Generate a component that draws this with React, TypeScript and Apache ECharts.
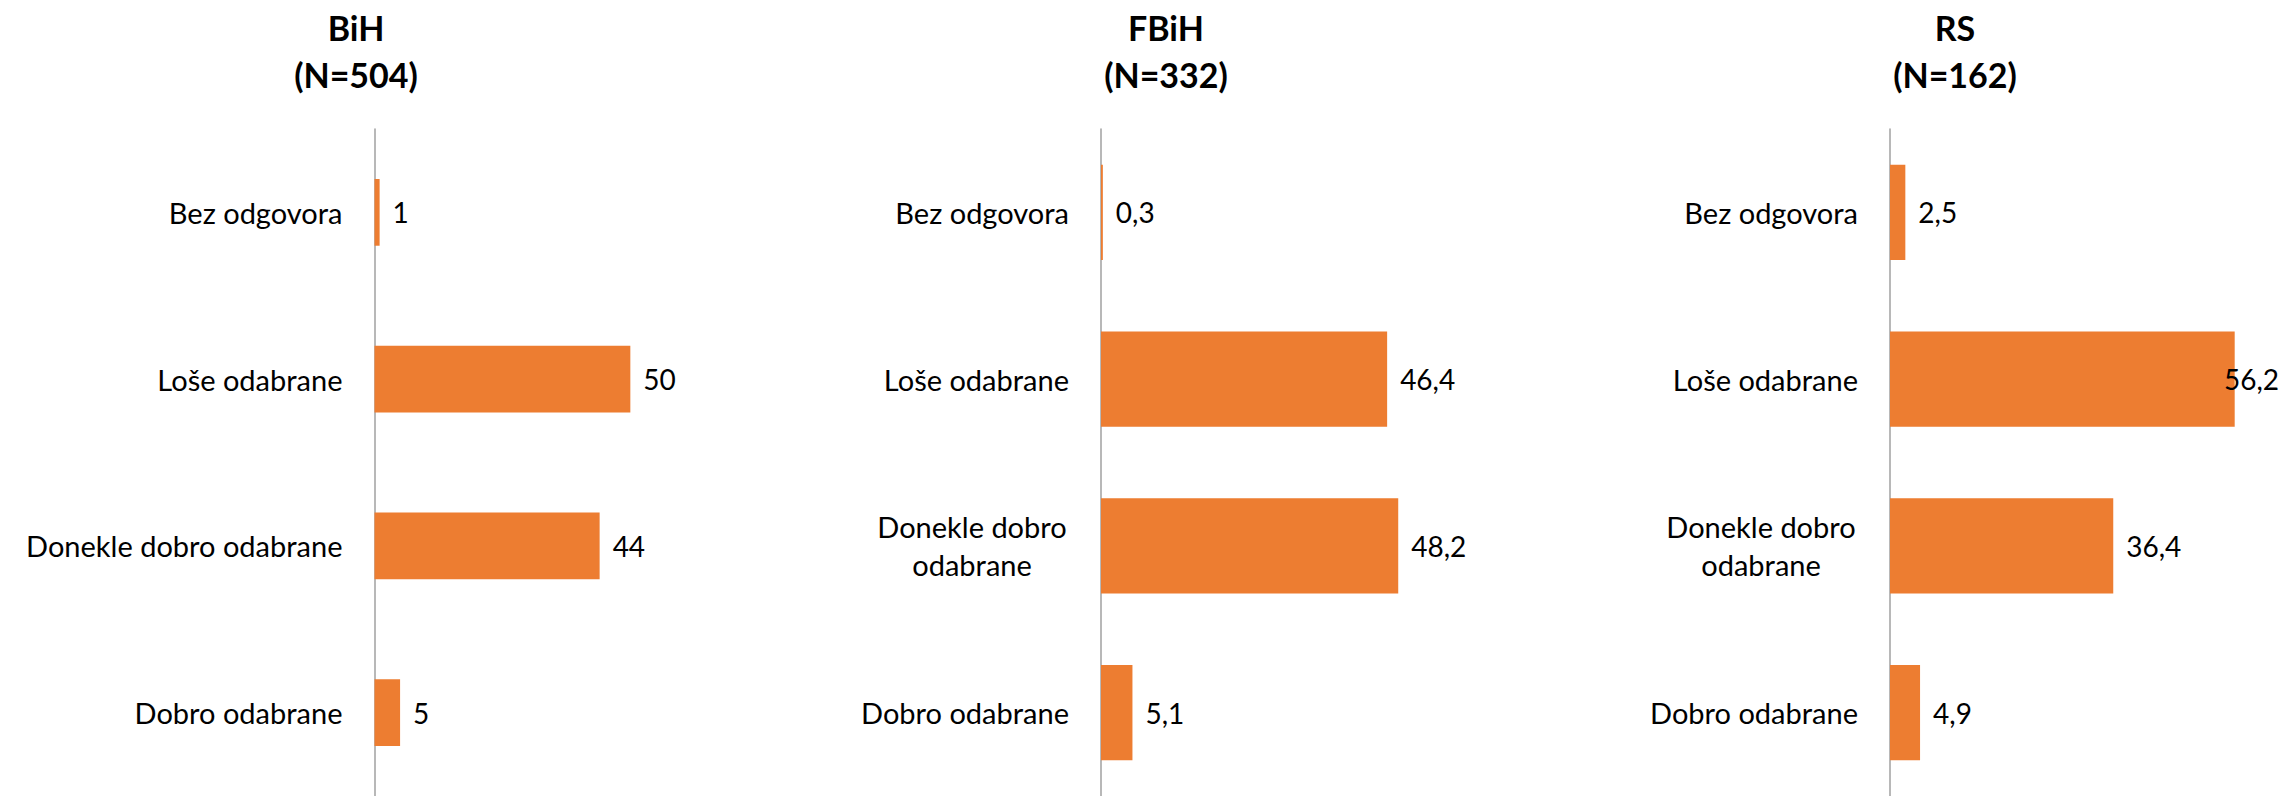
import React, { useEffect, useRef } from "react";
import * as echarts from "echarts";

// ---- data ----
const categories = ["Bez odgovora", "Loše odabrane", "Donekle dobro odabrane", "Dobro odabrane"];
const panelTitles = ["BiH", "FBiH", "RS"];
const panelN = [504, 332, 162];
const bihValues = [1, 50, 44, 5];
const fbihValues = [0.3, 46.4, 48.2, 5.1];
const rsValues = [2.5, 56.2, 36.4, 4.9];
const axisMax = 60;

const panelValues = [bihValues, fbihValues, rsValues];

// ---- layout / style ----
const W = 2285;
const H = 796;
const FONT = "Lato, 'Noto Sans', sans-serif";
const BAR_COLOR = "#ED7D31";
const panelLayout = [
  { left: 374.5, width: 307, gap: "60%", wrap: false, titleX: 356 },
  { left: 1101, width: 370, gap: "43%", wrap: true, titleX: 1166 },
  { left: 1890, width: 368, gap: "43%", wrap: true, titleX: 1955 },
];

const fmt = (v: number) => String(v).replace(".", ",");

export default function App() {
  const ref = useRef<HTMLDivElement>(null);
  useEffect(() => {
    if (!ref.current) return;
    const chart = echarts.init(ref.current, null, { renderer: "svg" });
    const option: any = {
      animation: false,
      backgroundColor: "#ffffff",
      title: panelLayout.map((p, i) => ({
        text: `${panelTitles[i]}\n(N=${panelN[i]})`,
        left: p.titleX,
        top: 4,
        padding: 0,
        textAlign: "center",
        textStyle: {
          fontFamily: FONT,
          fontWeight: "bold",
          fontSize: 34,
          lineHeight: 47,
          color: "#000",
        },
      })),
      grid: panelLayout.map((p) => ({
        left: p.left,
        width: p.width,
        top: 129,
        height: 671,
        containLabel: false,
      })),
      xAxis: panelLayout.map((_, i) => ({
        type: "value",
        gridIndex: i,
        min: 0,
        max: axisMax,
        show: false,
        splitLine: { show: false },
      })),
      yAxis: panelLayout.map((p, i) => ({
        type: "category",
        gridIndex: i,
        data: categories,
        inverse: true,
        axisLine: { show: true, lineStyle: { color: "#a0a0a0", width: 1.5 } },
        axisTick: { show: false },
        splitLine: { show: false },
        axisLabel: {
          margin: 32,
          color: "#000",
          fontFamily: FONT,
          fontSize: 29,
          lineHeight: 38,
          formatter: (v: string) => {
            if (p.wrap && v.indexOf("Donekle dobro ") === 0) {
              const parts = ["Donekle dobro", v.slice("Donekle dobro ".length)];
              return parts.map((s) => `{c|${s}}`).join("\n");
            }
            return v;
          },
          rich: {
            c: {
              width: 194,
              align: "center",
              fontFamily: FONT,
              fontSize: 29,
              lineHeight: 38,
              color: "#000",
            },
          },
        },
      })),
      series: panelValues.map((vals, i) => ({
        type: "bar",
        xAxisIndex: i,
        yAxisIndex: i,
        data: vals,
        barCategoryGap: panelLayout[i].gap,
        itemStyle: { color: BAR_COLOR },
        label: {
          show: true,
          position: "right",
          distance: 13,
          color: "#000",
          fontFamily: FONT,
          fontSize: 28,
          formatter: (pr: any) => fmt(pr.value),
        },
        labelLayout: (params: any) => {
          const r = params.labelRect;
          const limit = W - 6;
          if (r && r.x + r.width > limit) {
            return { dx: limit - (r.x + r.width) };
          }
          return {};
        },
      })),
    };
    chart.setOption(option);
    return () => chart.dispose();
  }, []);
  return (
    <div
      ref={ref}
      style={{ position: "fixed", left: 0, top: 0, width: W, height: H, background: "#fff" }}
    />
  );
}
